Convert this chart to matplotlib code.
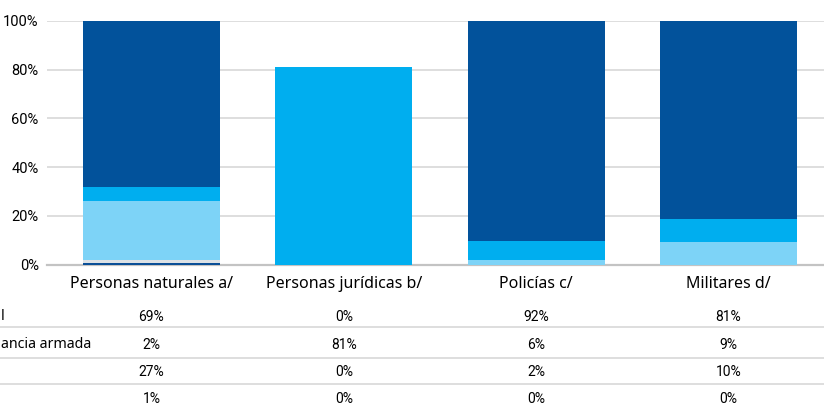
import matplotlib.pyplot as plt
import matplotlib.transforms as mtrans

# categories and stacked segments (bottom to top), in %
categories = ['Personas naturales a/', 'Personas jurídicas b/', 'Policías c/', 'Militares d/']
seg_line = [0.6, 0, 0, 0]
seg_gray = [1.5, 0, 0, 0]
seg_light = [24.2, 0, 2.0, 9.3]
seg_medium = [5.4, 81.0, 7.8, 9.4]
seg_dark = [68.3, 0, 90.2, 81.3]

# table below the chart
row_labels = ['l', 'ancia armada', '', '']
row_1 = ['69%', '0%', '92%', '81%']
row_2 = ['2%', '81%', '6%', '9%']
row_3 = ['27%', '0%', '2%', '10%']
row_4 = ['1%', '0%', '0%', '0%']

colors = ['#0a4f97', '#dde2e6', '#7dd3f7', '#00aeef', '#02529b']

plt.rcParams['font.family'] = ['Noto Sans', 'DejaVu Sans']
num_font = 'Roboto'

fig = plt.figure(figsize=(8.24, 4.05), dpi=100)
ax = fig.add_axes([47 / 824, 140.3 / 405, 777 / 824, 243.7 / 405])

x = list(range(len(categories)))
bottom = [0] * len(categories)
for seg, c in zip([seg_line, seg_gray, seg_light, seg_medium, seg_dark], colors):
    ax.bar(x, seg, bottom=bottom, width=0.712, color=c, zorder=3)
    bottom = [b + s for b, s in zip(bottom, seg)]

ax.set_ylim(0, 100)
ax.set_xlim(-0.543, 3.497)
ax.set_yticks([0, 20, 40, 60, 80, 100])
ax.set_yticklabels([f'{v}%' for v in [0, 20, 40, 60, 80, 100]], fontfamily=num_font, fontsize=10.5)
ax.set_xticks(x)
ax.set_xticklabels(categories, fontsize=11.5)
ax.tick_params(axis='both', length=0)
ax.tick_params(axis='y', pad=6)
ax.tick_params(axis='x', pad=8)
ax.grid(axis='y', color='#d4d4d4', linewidth=1.1, zorder=0)
for s in ['top', 'right', 'left']:
    ax.spines[s].set_visible(False)
ax.spines['bottom'].set_color('#c3c3c3')
ax.spines['bottom'].set_linewidth(1.6)
ax.spines['bottom'].set_zorder(2)

# table
row_y = [317, 345, 372, 399]
for yy in [326.7, 357.7, 384.3]:
    fig.add_artist(plt.Line2D([0, 1], [1 - yy / 405] * 2, color='#d4d4d4', linewidth=1.1))

blend = mtrans.blended_transform_factory(ax.transData, fig.transFigure)
for ry, lab, vals in zip(row_y, row_labels, [row_1, row_2, row_3, row_4]):
    fig.text(1 / 824, 1 - ry / 405, lab, ha='left', va='center', fontsize=10.2)
    for xi, v in zip(x, vals):
        fig.text(xi, 1 - ry / 405, v, ha='center', va='center', fontsize=10,
                 fontfamily=num_font, transform=blend)

fig.savefig('out.png', dpi=100)
